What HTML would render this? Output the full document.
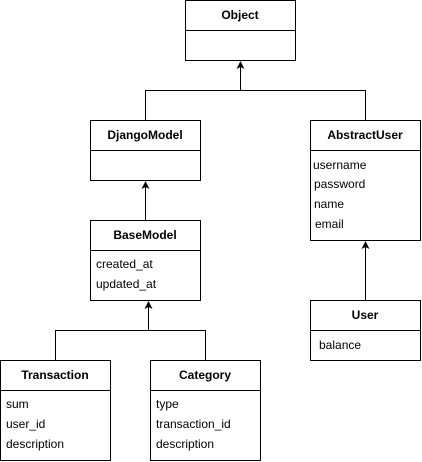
<!DOCTYPE html>
<html><head><style>body{margin:0;background:#fff}svg{display:block}text{font-family:"Liberation Sans",Arial,sans-serif;font-size:12px;fill:#000}.b{font-weight:bold}</style></head><body>
<svg width="422" height="462" viewBox="0 0 422 462">
<g fill="#fff" stroke="#000" stroke-width="1">
<rect x="185.5" y="0.5" width="110" height="60"/><line x1="185" y1="30.5" x2="296" y2="30.5"/>
<rect x="90.5" y="120.5" width="110" height="60"/><line x1="90" y1="150.5" x2="201" y2="150.5"/>
<rect x="310.5" y="120.5" width="110" height="120"/><line x1="310" y1="150.5" x2="421" y2="150.5"/>
<rect x="90.5" y="220.5" width="110" height="80"/><line x1="90" y1="250.5" x2="201" y2="250.5"/>
<rect x="310.5" y="300.5" width="110" height="60"/><line x1="310" y1="330.5" x2="421" y2="330.5"/>
<rect x="0.5" y="360.5" width="110" height="100"/><line x1="0" y1="390.5" x2="111" y2="390.5"/>
<rect x="150.5" y="360.5" width="110" height="100"/><line x1="150" y1="390.5" x2="261" y2="390.5"/>
</g>
<g fill="none" stroke="#000" stroke-width="1">
<polyline points="145.5,120 145.5,90.5 365.5,90.5 365.5,120"/><line x1="240.5" y1="90" x2="240.5" y2="66"/>
<line x1="145.5" y1="220" x2="145.5" y2="186"/>
<line x1="365.5" y1="300" x2="365.5" y2="246"/>
<polyline points="55.5,360 55.5,330.5 205.5,330.5 205.5,360"/><line x1="148.5" y1="330" x2="148.5" y2="306"/>
</g>
<g fill="#000">
<polygon points="240.5,61 236.5,69 240.5,67 244.5,69"/>
<polygon points="145.5,181 141.5,189 145.5,187 149.5,189"/>
<polygon points="365.5,241 361.5,249 365.5,247 369.5,249"/>
<polygon points="148.5,301 144.5,309 148.5,307 152.5,309"/>
</g>
<g text-anchor="middle" class="b">
<text x="240" y="19" class="b">Object</text>
<text x="145" y="139" class="b">DjangoModel</text>
<text x="365" y="139" class="b">AbstractUser</text>
<text x="145" y="239" class="b">BaseModel</text>
<text x="365" y="319" class="b">User</text>
<text x="55" y="379" class="b">Transaction</text>
<text x="205" y="379" class="b">Category</text>
</g>
<text x="313" y="169">username</text>
<text x="314" y="188">password</text>
<text x="314" y="208">name</text>
<text x="315" y="228">email</text>
<text x="96" y="268">created_at</text>
<text x="96" y="288">updated_at</text>
<text x="319" y="349">balance</text>
<text x="6" y="408">sum</text>
<text x="6" y="428">user_id</text>
<text x="6" y="448">description</text>
<text x="156" y="408">type</text>
<text x="156" y="428">transaction_id</text>
<text x="156" y="448">description</text>
</svg>
</body></html>
